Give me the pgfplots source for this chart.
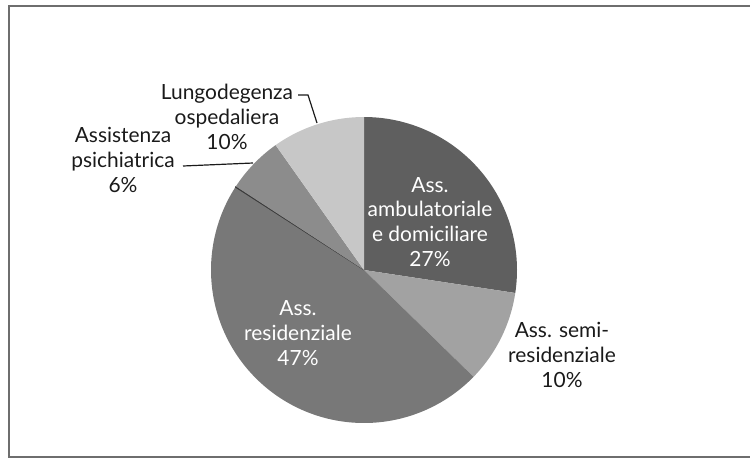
\documentclass[border=0pt]{standalone}
\usepackage{pgfplots}
\pgfplotsset{compat=1.18}
\usepackage{fontspec}
\setmainfont{Lato}
\definecolor{cAmb}{HTML}{5F5F5F}
\definecolor{cSemi}{HTML}{A2A2A2}
\definecolor{cRes}{HTML}{787878}
\definecolor{cTiny}{HTML}{3A3A3A}
\definecolor{cPsi}{HTML}{8C8C8C}
\definecolor{cLun}{HTML}{C7C7C7}
\definecolor{frame}{HTML}{6E6E6E}
\definecolor{txt}{HTML}{1A1A1A}
% shares (percent), clockwise from 12 o'clock
\def\vAmb{27.4}
\def\vSemi{9.9}
\def\vRes{46.8}
\def\vTiny{0.1}
\def\vPsi{6.0}
\def\vLun{9.8}
\pgfmathsetmacro{\aA}{90}
\pgfmathsetmacro{\aB}{\aA-3.6*\vAmb}
\pgfmathsetmacro{\aC}{\aB-3.6*\vSemi}
\pgfmathsetmacro{\aD}{\aC-3.6*\vRes}
\pgfmathsetmacro{\aE}{\aD-3.6*\vTiny}
\pgfmathsetmacro{\aF}{\aE-3.6*\vPsi}
\pgfmathsetmacro{\aG}{\aF-3.6*\vLun}
\def\cx{364}
\def\cy{270}
\def\R{153}
\begin{document}
\begin{tikzpicture}
\begin{axis}[
  width=750bp, height=458bp, scale only axis,
  xmin=0, xmax=750, ymin=0, ymax=458, y dir=reverse,
  hide axis, clip=true,
]
\addplot[draw=none, fill=cAmb, domain=\aB:\aA, samples=80]
  ({\cx+\R*cos(x)},{\cy-\R*sin(x)}) -- (axis cs:\cx,\cy) -- cycle;
\addplot[draw=none, fill=cSemi, domain=\aC:\aB, samples=40]
  ({\cx+\R*cos(x)},{\cy-\R*sin(x)}) -- (axis cs:\cx,\cy) -- cycle;
\addplot[draw=none, fill=cRes, domain=\aD:\aC, samples=120]
  ({\cx+\R*cos(x)},{\cy-\R*sin(x)}) -- (axis cs:\cx,\cy) -- cycle;
\addplot[draw=cTiny, line width=0.6pt, fill=cTiny, domain=\aE:\aD, samples=3]
  ({\cx+\R*cos(x)},{\cy-\R*sin(x)}) -- (axis cs:\cx,\cy) -- cycle;
\addplot[draw=none, fill=cPsi, domain=\aF:\aE, samples=30]
  ({\cx+\R*cos(x)},{\cy-\R*sin(x)}) -- (axis cs:\cx,\cy) -- cycle;
\addplot[draw=none, fill=cLun, domain=\aG:\aF, samples=40]
  ({\cx+\R*cos(x)},{\cy-\R*sin(x)}) -- (axis cs:\cx,\cy) -- cycle;
% leader lines
\addplot[txt, line width=1.2pt, mark=none] coordinates {(298,95) (308,95) (317,123)};
\addplot[txt, line width=1.2pt, mark=none] coordinates {(183,166) (253,163)};
% frame
\addplot[frame, line width=1.5pt, mark=none] coordinates {(770,6) (9,6) (9,457) (770,457)};
% labels
\node[white, align=center, font=\fontsize{21}{25}\selectfont] at (axis cs:430,222) {Ass.\\ambulatoriale\\e domiciliare\\27\%};
\node[white, align=center, font=\fontsize{21}{25}\selectfont] at (axis cs:298,333) {Ass.\\residenziale\\47\%};
\node[txt, align=center, font=\fontsize{21}{25}\selectfont] at (axis cs:562,355) {Ass. semi-\\residenziale\\10\%};
\node[txt, align=center, font=\fontsize{21}{25}\selectfont] at (axis cs:227,117) {Lungodegenza\\ospedaliera\\10\%};
\node[txt, align=center, font=\fontsize{21}{25}\selectfont] at (axis cs:123,160) {Assistenza\\psichiatrica\\6\%};
\end{axis}
\pgfresetboundingbox
\path (current axis.south west) rectangle (current axis.north east);
\end{tikzpicture}
\end{document}
